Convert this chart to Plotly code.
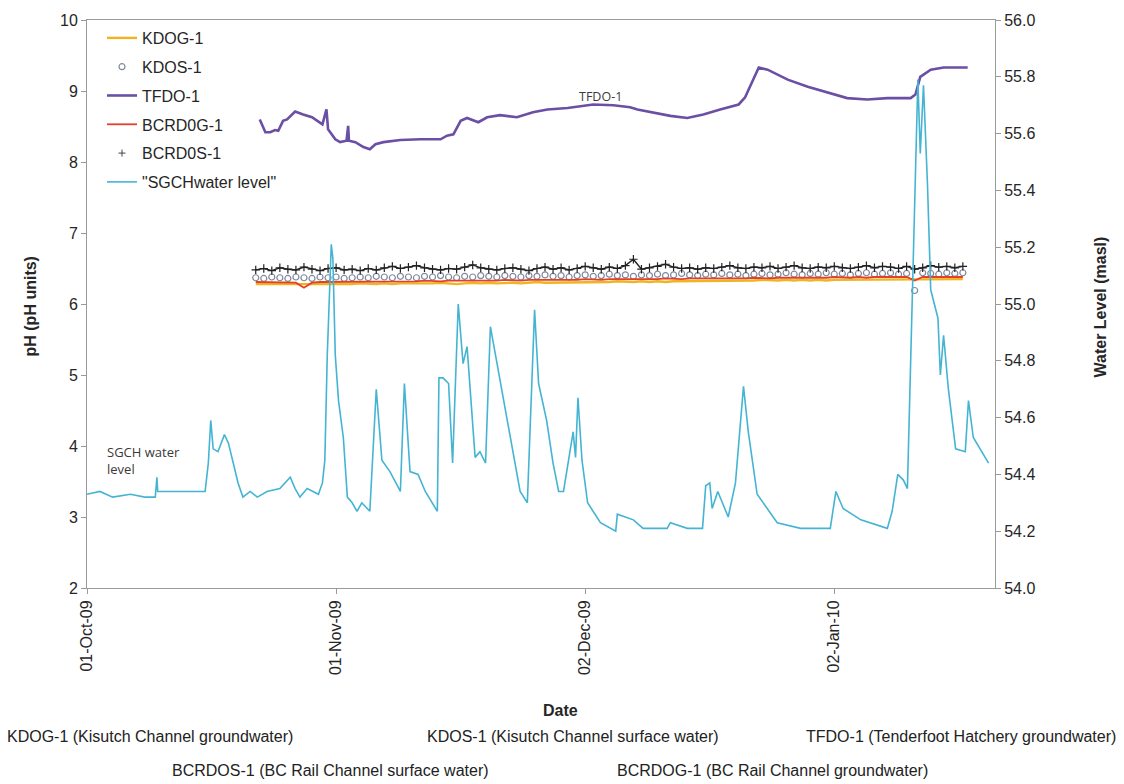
import pandas as pd
import plotly.graph_objects as go

# ---------------------------------------------------------------------------
# Logger records, days counted from 01-Oct-2009
# ---------------------------------------------------------------------------
START = pd.Timestamp("2009-10-01")

# daily pH series (Oct 22 2009 - Jan 18 2010)
ph_days = list(range(21, 110))

kdog1_ph = [
    6.28, 6.28, 6.27, 6.28, 6.27, 6.28, 6.28, 6.27, 6.28, 6.28,
    6.27, 6.28, 6.28, 6.29, 6.28, 6.28, 6.29, 6.28, 6.29, 6.29,
    6.28, 6.29, 6.29, 6.30, 6.29, 6.28, 6.29, 6.30, 6.29, 6.30,
    6.29, 6.30, 6.30, 6.29, 6.30, 6.31, 6.30, 6.30, 6.31, 6.30,
    6.31, 6.31, 6.30, 6.31, 6.31, 6.32, 6.31, 6.31, 6.32, 6.31,
    6.32, 6.31, 6.32, 6.32, 6.33, 6.32, 6.32, 6.33, 6.32, 6.33,
    6.32, 6.33, 6.33, 6.34, 6.33, 6.33, 6.34, 6.33, 6.34, 6.33,
    6.34, 6.33, 6.34, 6.34, 6.35, 6.34, 6.34, 6.35, 6.34, 6.35,
    6.34, 6.35, 6.35, 6.34, 6.35, 6.35, 6.35, 6.34, 6.35,
]

kdos1_ph = [
    6.37, 6.36, 6.38, 6.37, 6.36, 6.38, 6.37, 6.36, 6.38, 6.37,
    6.38, 6.36, 6.37, 6.38, 6.37, 6.39, 6.38, 6.37, 6.39, 6.38,
    6.37, 6.39, 6.38, 6.40, 6.38, 6.37, 6.39, 6.38, 6.40, 6.39,
    6.38, 6.40, 6.39, 6.38, 6.40, 6.39, 6.41, 6.39, 6.40, 6.38,
    6.40, 6.41, 6.39, 6.40, 6.42, 6.40, 6.41, 6.39, 6.41, 6.40,
    6.42, 6.40, 6.41, 6.43, 6.41, 6.40, 6.42, 6.41, 6.43, 6.41,
    6.42, 6.40, 6.42, 6.43, 6.41, 6.42, 6.44, 6.42, 6.41, 6.43,
    6.42, 6.44, 6.42, 6.43, 6.41, 6.43, 6.44, 6.42, 6.43, 6.44,
    6.42, 6.43, 6.19, 6.44, 6.43, 6.42, 6.44, 6.43, 6.44,
]

bcrdog1_ph = [
    6.31, 6.31, 6.30, 6.31, 6.31, 6.30, 6.23, 6.30, 6.31, 6.31,
    6.31, 6.32, 6.31, 6.31, 6.32, 6.32, 6.31, 6.32, 6.32, 6.32,
    6.32, 6.33, 6.32, 6.32, 6.33, 6.33, 6.32, 6.33, 6.33, 6.33,
    6.33, 6.34, 6.33, 6.33, 6.34, 6.34, 6.33, 6.34, 6.34, 6.34,
    6.34, 6.35, 6.34, 6.34, 6.35, 6.35, 6.34, 6.35, 6.35, 6.35,
    6.35, 6.36, 6.35, 6.35, 6.36, 6.36, 6.35, 6.36, 6.36, 6.36,
    6.36, 6.36, 6.37, 6.36, 6.36, 6.37, 6.37, 6.36, 6.37, 6.37,
    6.37, 6.37, 6.38, 6.37, 6.37, 6.38, 6.37, 6.38, 6.38, 6.37,
    6.38, 6.38, 6.33, 6.38, 6.38, 6.38, 6.38, 6.38, 6.38,
]

bcrdos1_ph = [
    6.48, 6.50, 6.47, 6.51, 6.49, 6.48, 6.52, 6.49, 6.47, 6.50,
    6.51, 6.48, 6.49, 6.47, 6.50, 6.48, 6.51, 6.53, 6.50, 6.52,
    6.54, 6.51, 6.49, 6.48, 6.50, 6.49, 6.52, 6.55, 6.51, 6.49,
    6.48, 6.50, 6.51, 6.49, 6.47, 6.50, 6.52, 6.49, 6.51, 6.48,
    6.50, 6.53, 6.51, 6.49, 6.52, 6.50, 6.54, 6.63, 6.49, 6.51,
    6.53, 6.56, 6.52, 6.50, 6.51, 6.49, 6.51, 6.50, 6.52, 6.54,
    6.51, 6.50, 6.52, 6.51, 6.53, 6.50, 6.52, 6.54, 6.51, 6.50,
    6.52, 6.51, 6.53, 6.51, 6.50, 6.52, 6.54, 6.51, 6.53, 6.52,
    6.50, 6.53, 6.49, 6.51, 6.54, 6.52, 6.53, 6.51, 6.53,
]

# Tenderfoot Hatchery groundwater pH
tfdo1_days = [
    21.5, 22.2, 22.8, 23.4, 23.8, 24.4, 24.9, 25.9, 26.9, 28.0,
    29.3, 29.8, 30.0, 30.9, 31.5, 32.3, 32.5, 32.6, 33.4, 34.4,
    35.2, 35.9, 36.9, 39.0, 41.5, 44.0, 44.8, 45.6, 46.5, 47.3,
    48.7, 49.8, 51.4, 53.5, 55.5, 57.3, 59.8, 61.4, 63.0, 65.5,
    67.6, 68.5, 70.5, 72.6, 74.7, 76.7, 78.8, 81.1, 81.9, 83.6,
    84.7, 87.2, 89.7, 92.2, 94.6, 97.1, 99.6, 102.5, 103.1, 103.7,
    105.0, 106.6, 109.6,
]
tfdo1_ph = [
    8.60, 8.42, 8.42, 8.45, 8.44, 8.58, 8.60, 8.71, 8.67, 8.63,
    8.53, 8.74, 8.46, 8.32, 8.28, 8.30, 8.51, 8.30, 8.28, 8.21,
    8.18, 8.25, 8.28, 8.31, 8.32, 8.32, 8.37, 8.39, 8.58, 8.62,
    8.56, 8.63, 8.66, 8.63, 8.70, 8.74, 8.76, 8.79, 8.81, 8.80,
    8.77, 8.74, 8.70, 8.65, 8.62, 8.67, 8.74, 8.81, 8.91, 9.33,
    9.30, 9.16, 9.06, 8.98, 8.90, 8.88, 8.90, 8.90, 8.95, 9.20,
    9.30, 9.33, 9.33,
]

# SGCH water level (masl), right-hand axis
sgch_days = [
    0.0, 1.6, 3.2, 5.4, 7.2, 8.5, 8.7, 8.8, 11.6, 14.7,
    15.1, 15.4, 15.7, 16.3, 17.1, 17.6, 18.2, 18.8, 19.4, 20.3,
    21.2, 22.4, 24.0, 25.3, 25.9, 26.5, 27.4, 28.1, 28.8, 29.3,
    29.6, 29.9, 30.4, 30.6, 30.9, 31.3, 31.9, 32.4, 33.0, 33.6,
    34.2, 35.2, 36.0, 36.7, 37.7, 39.0, 39.5, 40.2, 41.2, 42.1,
    43.6, 43.8, 44.3, 45.0, 45.5, 46.2, 46.8, 47.3, 48.3, 48.9,
    49.6, 50.2, 51.4, 52.7, 53.9, 54.8, 55.7, 56.2, 57.2, 58.0,
    58.7, 59.3, 60.5, 60.8, 61.1, 61.6, 62.3, 63.9, 65.8, 66.0,
    68.0, 69.2, 72.2, 72.6, 74.7, 76.6, 77.0, 77.5, 77.8, 78.5,
    79.8, 80.7, 81.7, 82.3, 83.4, 85.9, 88.8, 92.5, 93.2, 94.1,
    96.3, 99.6, 100.2, 100.9, 101.6, 102.1, 102.5, 102.7, 103.0, 103.4,
    103.7, 104.1, 104.6, 105.0, 105.9, 106.2, 106.6, 107.2, 108.1, 109.3,
    109.7, 110.3, 112.2,
]
sgch_level = [
    54.33, 54.34, 54.32, 54.33, 54.32, 54.32, 54.39, 54.34, 54.34, 54.34,
    54.44, 54.59, 54.49, 54.48, 54.54, 54.51, 54.44, 54.37, 54.32, 54.34,
    54.32, 54.34, 54.35, 54.39, 54.35, 54.32, 54.35, 54.34, 54.33, 54.37,
    54.45, 54.82, 55.21, 55.16, 54.82, 54.66, 54.53, 54.32, 54.30, 54.27,
    54.30, 54.27, 54.70, 54.45, 54.41, 54.34, 54.72, 54.41, 54.40, 54.34,
    54.27, 54.74, 54.74, 54.72, 54.44, 55.00, 54.79, 54.85, 54.46, 54.48,
    54.44, 54.92, 54.73, 54.52, 54.34, 54.30, 54.98, 54.72, 54.59, 54.44,
    54.34, 54.34, 54.55, 54.46, 54.67, 54.45, 54.30, 54.23, 54.20, 54.26,
    54.24, 54.21, 54.21, 54.23, 54.21, 54.21, 54.36, 54.37, 54.28, 54.34,
    54.25, 54.37, 54.71, 54.55, 54.33, 54.23, 54.21, 54.21, 54.34, 54.28,
    54.24, 54.21, 54.27, 54.40, 54.38, 54.35, 54.79, 54.98, 55.35, 55.79,
    55.53, 55.77, 55.42, 55.05, 54.95, 54.75, 54.89, 54.70, 54.49, 54.48,
    54.66, 54.53, 54.44,
]

station_notes = [
    "KDOG-1 (Kisutch Channel groundwater)",
    "KDOS-1 (Kisutch Channel surface water)",
    "TFDO-1 (Tenderfoot Hatchery groundwater)",
    "BCRDOS-1 (BC Rail Channel surface water)",
    "BCRDOG-1 (BC Rail Channel groundwater)",
]


def to_dates(days):
    return START + pd.to_timedelta(days, unit="D")


# plot-area geometry in pixels
W, H = 1124, 784
L_M, R_M, T_M, B_M = 87, 129, 15, 196
PW, PH = W - L_M - R_M, H - T_M - B_M


def px_x(px):
    return (px - L_M) / PW


def px_y(py):
    return 1 - (py - T_M) / PH


FONT = "Liberation Sans, Arial, sans-serif"
TXT = "#262626"

fig = go.Figure()

fig.add_trace(go.Scatter(
    x=to_dates(ph_days), y=kdog1_ph, name="KDOG-1", mode="lines",
    line=dict(color="#F0B51E", width=2.4), legendgroup="a",
))
fig.add_trace(go.Scatter(
    x=to_dates(ph_days), y=kdos1_ph, name="KDOS-1", mode="markers",
    marker=dict(symbol="circle-open", size=6, color="#7f889c",
                line=dict(width=1.2)), legendgroup="b",
))
fig.add_trace(go.Scatter(
    x=to_dates(tfdo1_days), y=tfdo1_ph, name="TFDO-1", mode="lines",
    line=dict(color="#6A4FA5", width=2.6), legendgroup="c",
))
fig.add_trace(go.Scatter(
    x=to_dates(ph_days), y=bcrdog1_ph, name="BCRD0G-1", mode="lines",
    line=dict(color="#E3402C", width=1.8), legendgroup="d",
))
fig.add_trace(go.Scatter(
    x=to_dates(ph_days), y=bcrdos1_ph, name="BCRD0S-1", mode="lines+markers",
    line=dict(color="#222222", width=1.4),
    marker=dict(symbol="cross-thin", size=6, color="#222222",
                line=dict(width=1.2, color="#222222")),
    showlegend=False, legendgroup="e",
))
# marker-only legend key for BCRDOS-1
fig.add_trace(go.Scatter(
    x=[None], y=[None], name="BCRD0S-1", mode="markers",
    marker=dict(symbol="cross-thin", size=5, color="#444",
                line=dict(width=1, color="#444")), legendgroup="e",
))
fig.add_trace(go.Scatter(
    x=to_dates(sgch_days), y=sgch_level, name="\"SGCHwater level\"",
    mode="lines", line=dict(color="#45B4D3", width=1.6),
    yaxis="y2", legendgroup="f",
))

axis_common = dict(
    showline=True, linecolor="#9a9a9a", linewidth=1,
    ticks="outside", ticklen=5, tickcolor="#9a9a9a",
    showgrid=False, zeroline=False,
    tickfont=dict(family=FONT, size=16, color=TXT),
)

fig.update_layout(
    width=W, height=H,
    margin=dict(l=L_M, r=R_M, t=T_M, b=B_M),
    paper_bgcolor="white", plot_bgcolor="white",
    font=dict(family=FONT, color=TXT),
    xaxis=dict(
        **axis_common,
        mirror=True,
        range=[START, START + pd.Timedelta(days=113)],
        tick0=START, dtick=31 * 24 * 3600 * 1000,
        tickformat="%d-%b-%y", tickangle=-90,
    ),
    yaxis=dict(**axis_common, range=[2, 10], dtick=1),
    yaxis2=dict(**axis_common, overlaying="y", side="right",
                range=[54.0, 56.0], dtick=0.2, tickformat=".1f"),
    legend=dict(
        x=px_x(102), y=px_y(16), xanchor="left", yanchor="top",
        bgcolor="rgba(0,0,0,0)", font=dict(family=FONT, size=16, color=TXT),
        tracegroupgap=5, traceorder="grouped",
    ),
    showlegend=True,
)

annotations = [
    dict(text="<b>pH (pH units)</b>", x=px_x(30), y=px_y(304), textangle=-90,
         font=dict(size=16)),
    dict(text="<b>Water Level (masl)</b>", x=px_x(1100), y=px_y(305),
         textangle=-90, font=dict(size=16)),
    dict(text="<b>Date</b>", x=px_x(560), y=px_y(712), font=dict(size=16)),
    dict(text="SGCH water<br>level", x=px_x(105), y=px_y(459), xanchor="left",
         align="left", font=dict(family="Open Sans, sans-serif", size=13,
                                 color="#3a3a3a")),
    dict(text="TFDO-1", x=px_x(600), y=px_y(92),
         font=dict(family="Open Sans, sans-serif", size=12.5, color="#3a3a3a")),
]
note_pos = [(150, 738), (573, 738), (961, 738), (330, 772), (772, 772)]
for note, (nx, ny) in zip(station_notes, note_pos):
    annotations.append(dict(text=note, x=px_x(nx), y=px_y(ny),
                            font=dict(family=FONT, size=16, color="#222")))
for a in annotations:
    a.setdefault("xref", "paper")
    a.setdefault("yref", "paper")
    a.setdefault("showarrow", False)
    a.setdefault("xanchor", "center")
    a.setdefault("yanchor", "middle")
fig.update_layout(annotations=annotations)

fig.write_html("out.html")
